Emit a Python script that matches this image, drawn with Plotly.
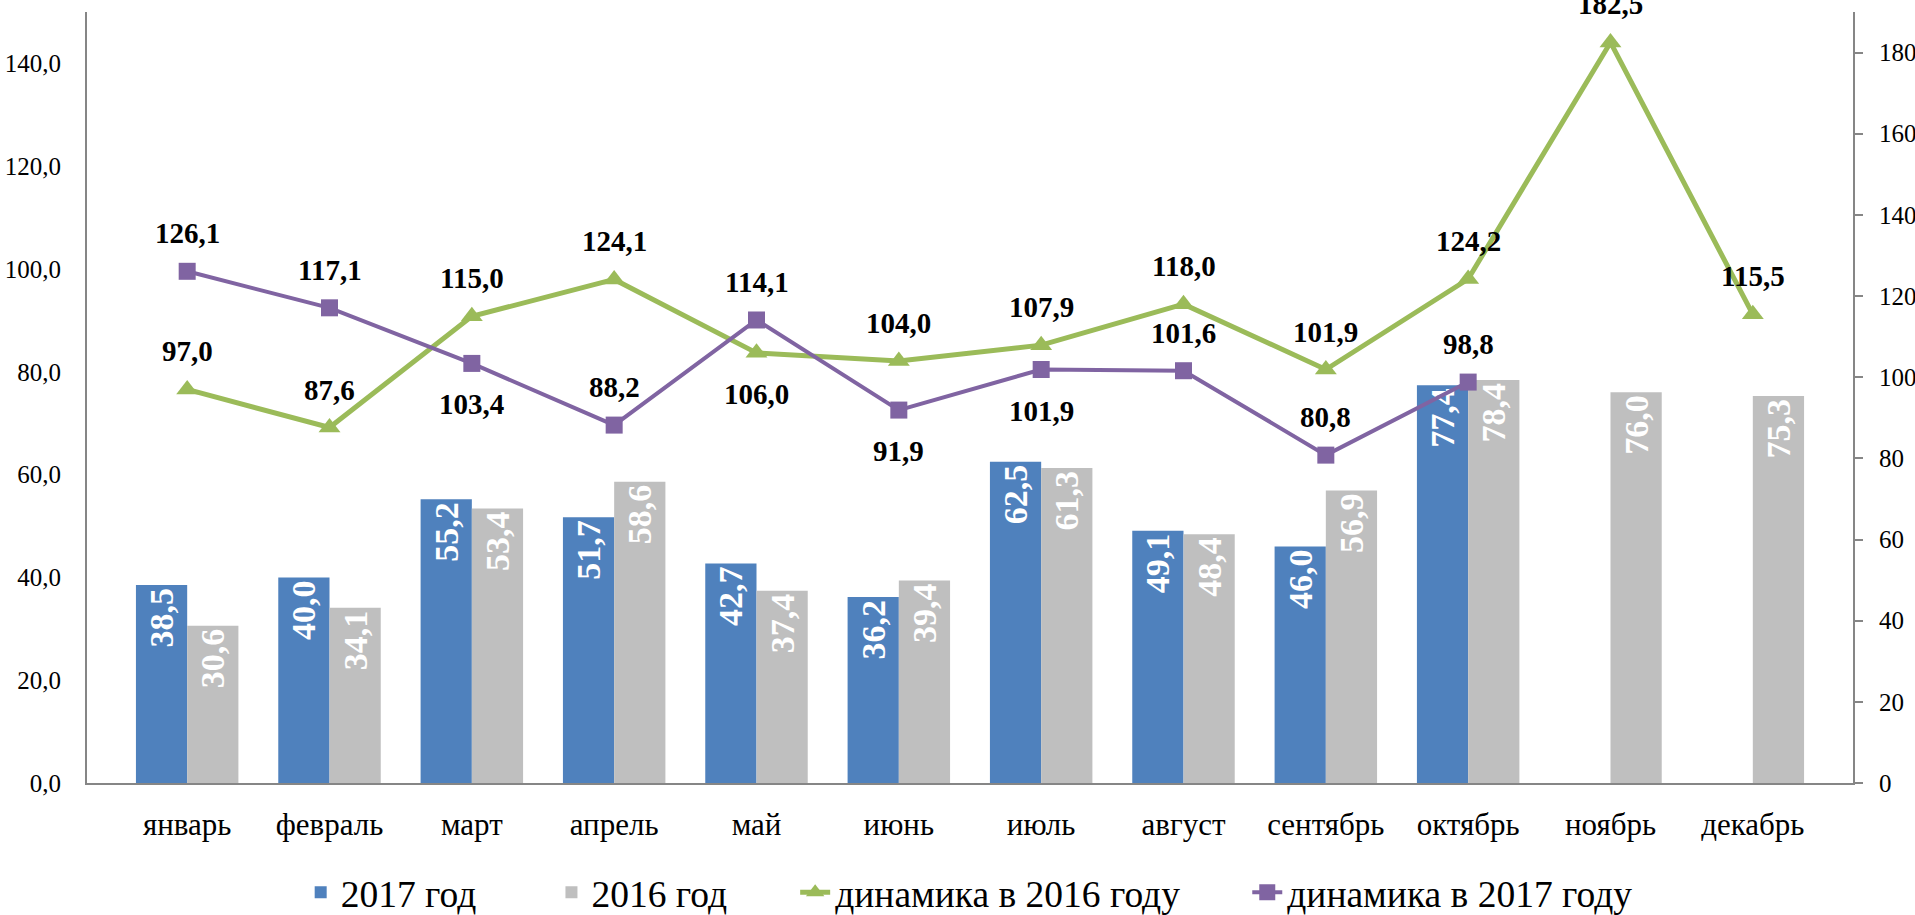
import plotly.graph_objects as go

months = ["январь", "февраль", "март", "апрель", "май", "июнь", "июль",
          "август", "сентябрь", "октябрь", "ноябрь", "декабрь"]
vol_2017 = [38.5, 40.0, 55.2, 51.7, 42.7, 36.2, 62.5, 49.1, 46.0, 77.4, None, None]
vol_2016 = [30.6, 34.1, 53.4, 58.6, 37.4, 39.4, 61.3, 48.4, 56.9, 78.4, 76.0, 75.3]
dyn_2016 = [97.0, 87.6, 115.0, 124.1, 106.0, 104.0, 107.9, 118.0, 101.9, 124.2, 182.5, 115.5]
dyn_2017 = [126.1, 117.1, 103.4, 88.2, 114.1, 91.9, 101.9, 101.6, 80.8, 98.8, None, None]

# label placement (style): above / below the marker
pos_2016 = ["a", "a", "a", "a", "b", "a", "a", "a", "a", "a", "a", "a"]
pos_2017 = ["a", "a", "b", "a", "a", "b", "b", "a", "a", "a"]

BLUE = "#4F81BD"
GRAY = "#BFBFBF"
GREEN = "#9BBB59"
PURPLE = "#8064A2"
AXIS = "#868686"
FONT = "Liberation Serif"


def fmt(v):
    return None if v is None else f"{v:.1f}".replace(".", ",")


fig = go.Figure()
fig.add_trace(go.Bar(
    x=months, y=vol_2017, name="2017 год", marker=dict(color=BLUE, line=dict(width=0)),
    text=[fmt(v) for v in vol_2017], textposition="inside", insidetextanchor="end",
    textangle=-90, textfont=dict(family=FONT, size=34, color="white", weight="bold"),
    yaxis="y", legend="legend",
))
fig.add_trace(go.Bar(
    x=months, y=vol_2016, name="2016 год", marker=dict(color=GRAY, line=dict(width=0)),
    text=[fmt(v) for v in vol_2016], textposition="inside", insidetextanchor="end",
    textangle=-90, textfont=dict(family=FONT, size=34, color="white", weight="bold"),
    yaxis="y", legend="legend2",
))
fig.add_trace(go.Scatter(
    x=months, y=dyn_2016, name="динамика в 2016 году", mode="lines+markers",
    line=dict(color=GREEN, width=5), marker=dict(symbol="triangle-up", size=19, color=GREEN),
    yaxis="y2", cliponaxis=False, legend="legend3",
))
fig.add_trace(go.Scatter(
    x=months, y=dyn_2017, name="динамика в 2017 году", mode="lines+markers",
    line=dict(color=PURPLE, width=4), marker=dict(symbol="square", size=17, color=PURPLE),
    yaxis="y2", cliponaxis=False, legend="legend4",
))

annotations = []
for series, positions in ((dyn_2016, pos_2016), (dyn_2017, pos_2017)):
    for m, v, p in zip(months, series, positions):
        if v is None:
            continue
        annotations.append(dict(
            x=m, y=v, xref="x", yref="y2", text=fmt(v), showarrow=False,
            yshift=38 if p == "a" else -41,
            font=dict(family=FONT, size=29, color="black", weight="bold"),
        ))


def legend_at(xpos):
    return dict(orientation="h", x=xpos, xanchor="left", y=-0.142, yanchor="middle",
                font=dict(family=FONT, size=37.5, color="black"),
                bgcolor="rgba(0,0,0,0)", borderwidth=0)


fig.update_layout(
    width=1915, height=915,
    margin=dict(l=87, r=62, t=12, b=132, autoexpand=False),
    paper_bgcolor="white", plot_bgcolor="white",
    separators=", ",
    barmode="group", bargap=0.28, bargroupgap=0,
    font=dict(family=FONT, size=25, color="black"),
    showlegend=True,
    legend=legend_at(0.121),
    legend2=legend_at(0.263),
    legend3=legend_at(0.401),
    legend4=legend_at(0.657),
    xaxis=dict(type="category", showline=True, linecolor=AXIS, linewidth=2,
               ticks="", showgrid=False, tickfont=dict(family=FONT, size=31),
               ticklabelstandoff=13),
    yaxis=dict(range=[0, 150], dtick=20, tick0=0, tickformat=".1f", showline=True,
               linecolor=AXIS, linewidth=2, ticks="", showgrid=False, zeroline=False,
               tickfont=dict(family=FONT, size=25), ticklabelstandoff=19),
    yaxis2=dict(range=[0, 190], dtick=20, tick0=0, tickformat="d", overlaying="y",
                side="right", showline=True, linecolor=AXIS, linewidth=2,
                ticks="outside", ticklen=8, tickcolor=AXIS, tickwidth=2,
                showgrid=False, zeroline=False, tickfont=dict(family=FONT, size=25),
                ticklabelstandoff=11),
    annotations=annotations,
)

fig.write_html("out.html", config={"displayModeBar": False},
               post_script="document.body.style.margin='0';")
